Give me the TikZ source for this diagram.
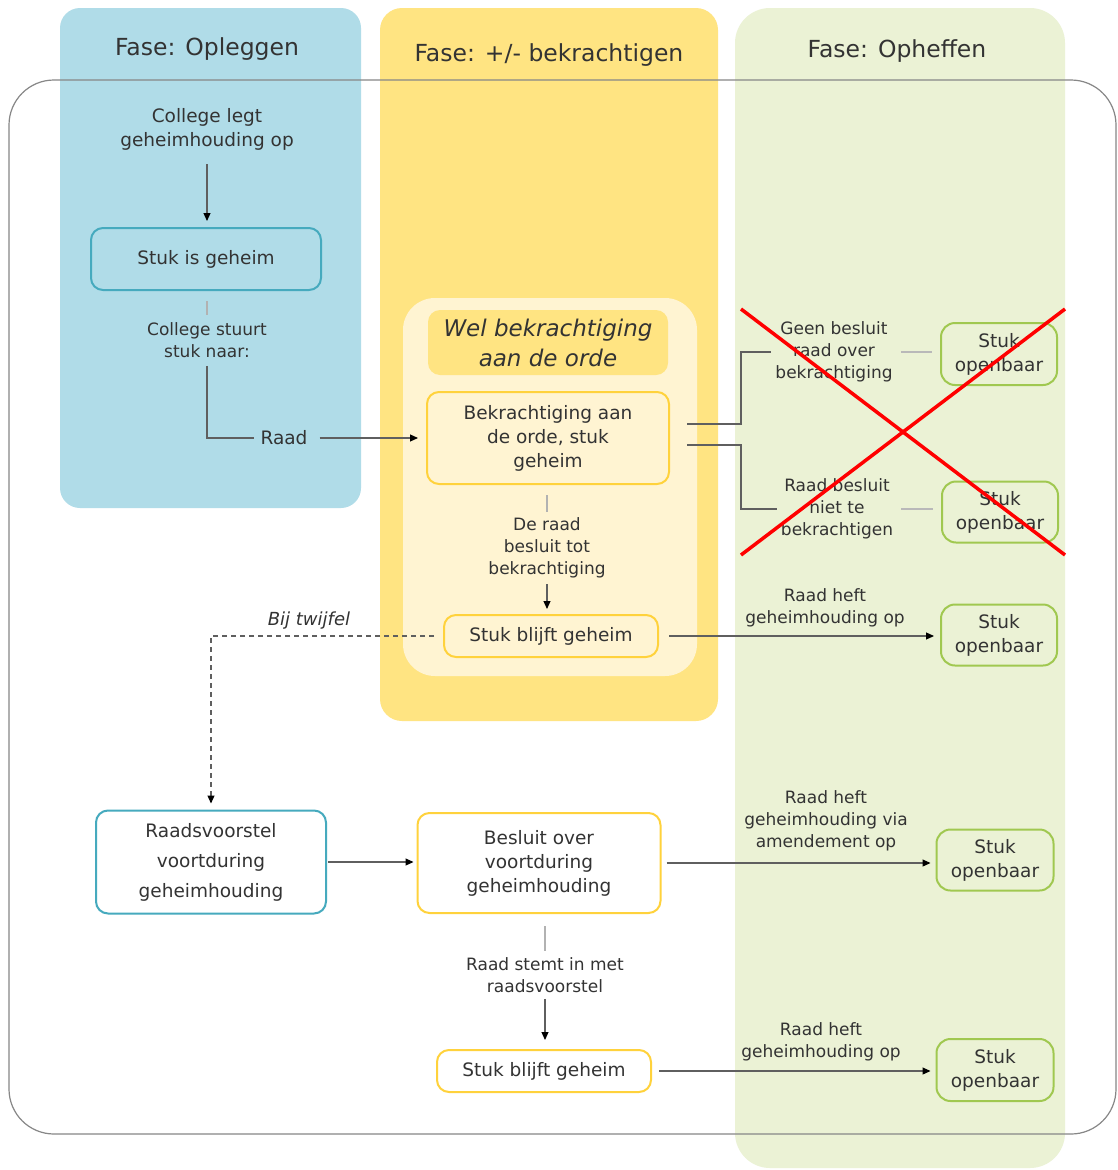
\documentclass[tikz,border=0pt]{standalone}
\usepackage{fontspec}
\setmainfont{DejaVu Sans}
\usetikzlibrary{arrows.meta,calc}
\definecolor{bluecol}{RGB}{176,220,232}
\definecolor{yelcol}{RGB}{255,228,130}
\definecolor{greencol}{RGB}{235,242,213}
\definecolor{lightyel}{RGB}{255,244,210}
\definecolor{tealline}{RGB}{70,170,190}
\definecolor{yelline}{RGB}{255,210,60}
\definecolor{greenline}{RGB}{160,200,80}
\definecolor{txt}{RGB}{51,51,51}
\definecolor{lineg}{RGB}{95,95,95}
\definecolor{frameg}{RGB}{135,135,135}
\newcommand\bxfont{\fontsize{18.5}{24}\selectfont}
\newcommand\lblfont{\fontsize{17}{22}\selectfont}
\newcommand\ttlfont{\fontsize{23.5}{28}\selectfont}
\newcommand\hdrfont{\fontsize{23}{30}\selectfont\itshape}
\begin{document}
\begin{tikzpicture}[x=1pt,y=-1pt,
  box/.style={rounded corners=12pt, line width=2pt, align=center, text=txt, font=\bxfont, inner sep=0pt},
  bluebox/.style={box, draw=tealline},
  yelbox/.style={box, draw=yelline},
  grnbox/.style={box, draw=greenline, rounded corners=14pt},
  lbl/.style={align=center, font=\lblfont, text=txt, inner sep=4pt},
  ttl/.style={font=\ttlfont, text=txt, inner sep=0pt},
  conn/.style={draw=lineg, line width=1.1pt},
  lightconn/.style={draw=gray!55, line width=1.1pt},
  arrowed/.style={-{Triangle[length=8pt,width=7pt,color=black]}},
  cross/.style={draw=red, line width=3.5pt}
]
\useasboundingbox (0,0) rectangle (1117,1170);
\fill[white] (0,0) rectangle (1117,1170);
% columns
\fill[bluecol, rounded corners=20pt] (60,8) rectangle (361,508);
\fill[yelcol, rounded corners=22pt] (380,8) rectangle (718,721);
\fill[greencol, rounded corners=35pt] (735,8) rectangle (1065,1168);
% frame
\draw[frameg, line width=1.2pt, rounded corners=45pt] (9,80) rectangle (1116,1134);
% inner area
\fill[lightyel, rounded corners=32pt] (403,298) rectangle (697,676);
% titles
\node[ttl] (t1) at (207,49) {Fase: Opleggen};
\node[ttl] (t2) at (549,55) {Fase: +/- bekrachtigen};
\node[ttl] (t3) at (897,51) {Fase: Opheffen};
% header
\node[fill=yelcol, rounded corners=12pt, minimum width=240pt, minimum height=65pt, font=\hdrfont, text=txt, align=center, inner sep=0pt] (hdr) at (548,342.5) {Wel bekrachtiging\\aan de orde};
% top-left
\node[lbl, font=\bxfont] (legt) at (207,129) {College legt\\geheimhouding op};
\node[bluebox, fill=bluecol, minimum width=230pt, minimum height=62pt] (stukg) at (206,259) {Stuk is geheim};
\node[lbl] (cstuurt) at (207,340) {College stuurt\\stuk naar:};
\node[lbl, font=\bxfont] (raad) at (284,438) {Raad};
% middle
\node[yelbox, fill=lightyel, minimum width=242pt, minimum height=92pt] (bek) at (548,438) {Bekrachtiging aan\\de orde, stuk\\geheim};
\node[lbl] (deraad) at (547,548) {De raad\\besluit tot\\bekrachtiging};
\node[yelbox, fill=lightyel, minimum width=214pt, minimum height=42pt] (blijft1) at (551,636) {Stuk blijft geheim};
% crossed branch
\node[lbl] (geen) at (834,352) {Geen besluit\\raad over\\bekrachtiging};
\node[lbl] (niet) at (837,509) {Raad besluit\\niet te\\bekrachtigen};
\node[grnbox, fill=greencol, minimum width=116pt, minimum height=62pt] (open1) at (999,354) {Stuk\\openbaar};
\node[grnbox, fill=greencol, minimum width=116pt, minimum height=61pt] (open2) at (1000,512) {Stuk\\openbaar};
\node[lbl] (heft1) at (825,608) {Raad heft\\geheimhouding op};
\node[grnbox, fill=greencol, minimum width=116pt, minimum height=61pt] (open3) at (999,635) {Stuk\\openbaar};
% lower part
\node[lbl, font=\fontsize{18}{22}\selectfont\itshape] (twijfel) at (309,621) {Bij twijfel};
\node[bluebox, fill=white, minimum width=230pt, minimum height=103pt, font=\fontsize{18.5}{30}\selectfont] (raadsv) at (211,862) {Raadsvoorstel\\voortduring\\geheimhouding};
\node[yelbox, fill=white, minimum width=243pt, minimum height=100pt] (besluit) at (539,863) {Besluit over\\voortduring\\geheimhouding};
\node[lbl] (amend) at (826,821) {Raad heft\\geheimhouding via\\amendement op};
\node[grnbox, fill=greencol, minimum width=117pt, minimum height=61pt] (open4) at (995,860) {Stuk\\openbaar};
\node[lbl] (stemt) at (545,975) {Raad stemt in met\\raadsvoorstel};
\node[yelbox, fill=white, minimum width=214pt, minimum height=42pt] (blijft2) at (544,1071) {Stuk blijft geheim};
\node[lbl] (heft2) at (821,1042) {Raad heft\\geheimhouding op};
\node[grnbox, fill=greencol, minimum width=117pt, minimum height=62pt] (open5) at (995,1070) {Stuk\\openbaar};
% connectors
\draw[conn, arrowed, shorten <=10pt, shorten >=6pt] (legt.south) -- (legt.south |- stukg.north);
\draw[conn, draw=gray!60, shorten <=10pt, shorten >=3pt] (cstuurt.north |- stukg.south) -- (cstuurt.north);
\draw[conn, shorten <=4pt, shorten >=2pt] (cstuurt.south) |- (raad.west);
\draw[conn, arrowed, shorten <=8pt, shorten >=8pt] (raad.east) -- (raad.east -| bek.west);
\draw[conn, draw=gray!60, shorten <=10pt, shorten >=2pt] (deraad.north |- bek.south) -- (deraad.north);
\draw[conn, arrowed, shorten <=2pt, shorten >=5pt] (deraad.south) -- (deraad.south |- blijft1.north);
\draw[conn] ([shift={(17,-14)}]bek.east) -- ++(54,0) |- (geen.west);
\draw[conn] ([shift={(17,7)}]bek.east) -- ++(54,0) |- (niet.west);
\draw[lightconn, shorten <=4pt, shorten >=8pt] (geen.east) -- (geen.east -| open1.west);
\draw[lightconn, shorten <=4pt, shorten >=8pt] (niet.east) -- (niet.east -| open2.west);
\draw[conn, arrowed, shorten <=10pt, shorten >=6pt] (blijft1.east) -- (blijft1.east -| open3.west);
\draw[conn, dashed, dash pattern=on 5pt off 4pt, arrowed, shorten <=9pt, shorten >=6pt] (blijft1.west) -| (raadsv.north);
\draw[conn, arrowed, shorten <=1pt, shorten >=3pt] (raadsv.east) -- (raadsv.east -| besluit.west);
\draw[conn, arrowed, shorten <=5pt, shorten >=5pt] (besluit.east) -- (besluit.east -| open4.west);
\draw[conn, draw=gray!60, shorten <=12pt, shorten >=2pt] (stemt.north |- besluit.south) -- (stemt.north);
\draw[conn, arrowed, shorten <=2pt, shorten >=9pt] (stemt.south) -- (stemt.south |- blijft2.north);
\draw[conn, arrowed, shorten <=7pt, shorten >=5pt] (blijft2.east) -- (blijft2.east -| open5.west);
% red cross
\draw[cross] (741,309) -- (1065,555);
\draw[cross] (741,555) -- (1065,309);
\end{tikzpicture}
\end{document}
